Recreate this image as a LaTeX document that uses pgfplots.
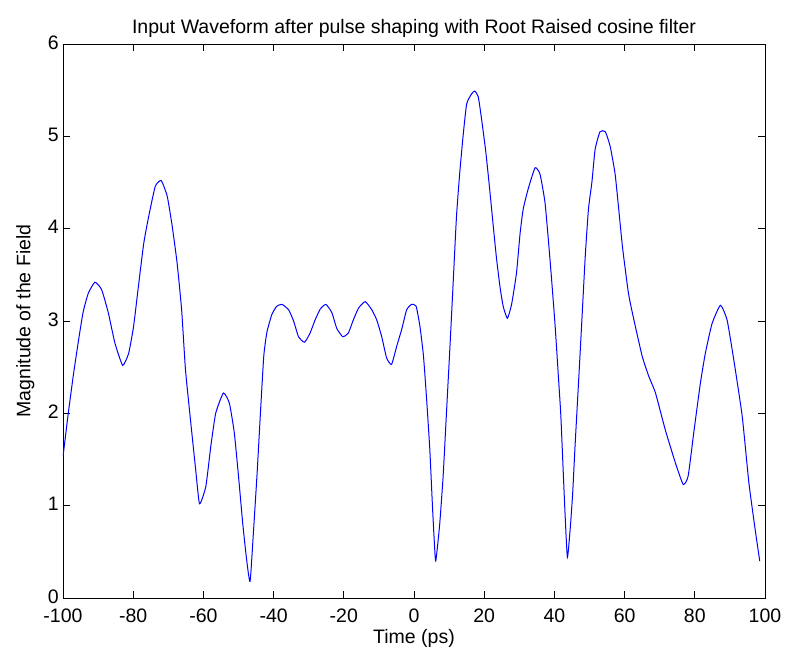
\documentclass[border=0pt]{standalone}
\usepackage{fontspec}
\setmainfont{Liberation Sans}
\usepackage{pgfplots}
\pgfplotsset{compat=1.18}
\begin{document}
\begin{tikzpicture}
\useasboundingbox (-63pt,-58pt) rectangle (723pt,598pt);
\begin{axis}[
  scale only axis,
  width=702pt, height=554pt,
  xmin=-100, xmax=100, ymin=0, ymax=6,
  xtick={-100,-80,...,100}, ytick={0,1,...,6},
  tick align=inside,
  major tick length=7pt,
  xtick pos=both, ytick pos=both,
  axis line style={black, line width=0.8pt},
  every tick/.style={black, line width=0.8pt},
  /pgf/number format/assume math mode=true,
  tick label style={font=\fontsize{19.5}{22}\selectfont, inner sep=1pt},
  xticklabel style={yshift=-10pt},
  yticklabel style={xshift=-3pt, yshift=1.5pt},
  label style={font=\fontsize{19.5}{22}\selectfont},
  title style={font=\fontsize{19.5}{22}\selectfont, yshift=-3pt},
  title={Input Waveform after pulse shaping with Root Raised cosine filter},
  xlabel={Time (ps)},
  ylabel={Magnitude of the Field},
  xlabel style={yshift=-2pt},
  ylabel style={yshift=9pt},
]
\addplot[color={rgb,255:red,0;green,0;blue,255}, line width=1pt, smooth, tension=0.3] coordinates {
(-100,1.53) (-98.6,1.97) (-97.1,2.40) (-95.7,2.76) (-94.3,3.09) (-92.8,3.30) (-90.9,3.42)
(-89.0,3.34) (-87.1,3.09) (-85.2,2.76) (-83.0,2.52) (-81.3,2.65) (-79.9,2.94) (-78.5,3.38)
(-77.0,3.84) (-75.6,4.13) (-73.7,4.46) (-72.0,4.52) (-70.3,4.35) (-68.9,4.03) (-67.5,3.63)
(-66.2,3.12) (-65.1,2.47) (-63.6,1.90) (-62.2,1.39) (-61.1,1.02) (-59.3,1.21) (-57.9,1.64)
(-56.5,2.00) (-54.3,2.22) (-52.6,2.11) (-51.2,1.79) (-50.0,1.32) (-48.8,0.81) (-47.7,0.42)
(-46.7,0.18) (-45.7,0.74) (-44.7,1.35) (-43.8,1.97) (-42.8,2.62) (-41.9,2.88) (-40.5,3.07)
(-39.1,3.16) (-37.6,3.18) (-35.7,3.12) (-34.3,3.00) (-32.9,2.83) (-31.2,2.77) (-29.6,2.87)
(-28.2,3.01) (-26.7,3.13) (-25.1,3.18) (-23.4,3.09) (-22.0,2.92) (-20.3,2.83) (-18.7,2.87)
(-17.3,3.01) (-15.8,3.14) (-13.9,3.21) (-12.0,3.12) (-10.6,3.01) (-9.2,2.83) (-7.8,2.60)
(-6.4,2.53) (-4.9,2.73) (-3.5,2.91) (-2.1,3.12) (-0.7,3.18) (0.6,3.16) (1.7,2.94)
(2.7,2.62) (3.6,2.15) (4.5,1.61) (5.3,0.96) (5.8,0.60) (6.2,0.40) (7.3,0.79) (8.3,1.32)
(9.2,1.97) (10.2,2.69) (11.1,3.37) (12.1,4.13) (13.0,4.59) (14.0,5.01) (15.0,5.35)
(16.4,5.46) (17.3,5.49) (18.3,5.43) (19.2,5.20) (20.4,4.85) (21.5,4.45) (22.6,4.02)
(23.5,3.68) (24.5,3.37) (25.4,3.16) (26.6,3.03) (27.8,3.18) (29.2,3.52) (30.2,3.94)
(31.1,4.21) (32.6,4.44) (34.5,4.66) (35.9,4.59) (37.3,4.29) (38.3,3.87) (39.2,3.45)
(40.2,2.95) (41.1,2.42) (41.8,2.00) (42.4,1.47) (43.0,0.94) (43.7,0.44) (44.5,0.75)
(45.2,1.13) (45.9,1.66) (46.9,2.35) (47.8,2.99) (48.8,3.71) (49.7,4.21) (50.7,4.51)
(51.6,4.86) (53.0,5.05) (54.5,5.05) (55.9,4.89) (57.3,4.59) (58.3,4.22) (59.4,3.80)
(61.1,3.30) (62.6,3.02) (65.0,2.62) (66.9,2.40) (68.8,2.22) (71.6,1.82) (74.5,1.46)
(76.7,1.23) (78.1,1.32) (79.7,1.79) (81.6,2.33) (83.0,2.65) (84.9,2.97) (87.3,3.17)
(89.2,3.01) (91.1,2.58) (93.5,1.97) (95.4,1.25) (97.2,0.74) (98.5,0.40)
};
\end{axis}
\end{tikzpicture}
\end{document}
